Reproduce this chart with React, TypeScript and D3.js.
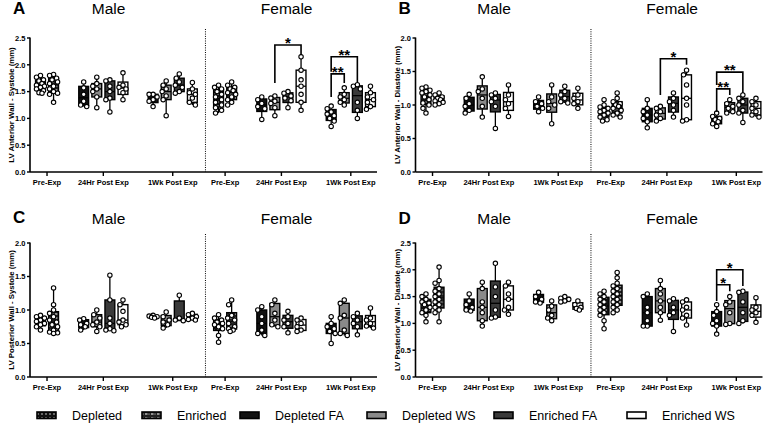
import React from 'react';
import * as d3 from 'd3';

const timepoints = ['Pre-Exp', '24Hr Post Exp', '1Wk Post Exp'];
const sexes = ['Male', 'Female'];
const preGroups = ['Depleted', 'Enriched'];
const postGroups = ['Depleted FA', 'Depleted WS', 'Enriched FA', 'Enriched WS'];
const legendItems = ['Depleted', 'Enriched', 'Depleted FA', 'Depleted WS', 'Enriched FA', 'Enriched WS'];

// A - LV anterior wall, systole (mm)
const antSysMale = [
  [[1.80, 1.77, 1.72, 1.70, 1.65, 1.62, 1.60, 1.58, 1.55, 1.52, 1.48, 1.47], [1.82, 1.80, 1.75, 1.72, 1.68, 1.65, 1.60, 1.55, 1.50, 1.47, 1.45, 1.30]],
  [[1.68, 1.57, 1.45, 1.32, 1.25, 1.22], [1.77, 1.65, 1.60, 1.55, 1.50, 1.40, 1.20], [1.72, 1.70, 1.60, 1.50, 1.38, 1.35, 1.12], [1.85, 1.62, 1.58, 1.55, 1.48, 1.35]],
  [[1.45, 1.45, 1.40, 1.35, 1.32, 1.22], [1.70, 1.62, 1.55, 1.50, 1.42, 1.35, 1.05], [1.83, 1.75, 1.68, 1.62, 1.58, 1.50, 1.47], [1.67, 1.55, 1.48, 1.45, 1.38, 1.30, 1.25]],
];
const antSysFemale = [
  [[1.62, 1.58, 1.55, 1.50, 1.45, 1.40, 1.35, 1.30, 1.25, 1.20, 1.15, 1.10], [1.68, 1.62, 1.58, 1.55, 1.52, 1.48, 1.45, 1.40, 1.35, 1.30, 1.25]],
  [[1.40, 1.35, 1.28, 1.22, 1.18, 0.98], [1.42, 1.38, 1.32, 1.28, 1.20, 1.05], [1.50, 1.47, 1.42, 1.38, 1.33, 1.20], [2.15, 1.90, 1.72, 1.60, 1.45, 1.30, 1.15]],
  [[1.23, 1.18, 1.12, 1.08, 1.05, 1.00, 0.95, 0.85], [1.57, 1.45, 1.40, 1.35, 1.30, 1.25], [1.63, 1.60, 1.55, 1.30, 1.15, 1.00], [1.60, 1.48, 1.40, 1.35, 1.30, 1.22, 1.17]],
];

// B - LV anterior wall, diastole (mm)
const antDiaMale = [
  [[1.27, 1.25, 1.22, 1.20, 1.18, 1.15, 1.12, 1.08, 1.03, 1.00, 0.95, 0.88], [1.18, 1.15, 1.12, 1.10, 1.08, 1.06, 1.04, 1.02, 1.00]],
  [[1.16, 1.10, 1.02, 0.98, 0.92, 0.88], [1.42, 1.24, 1.20, 1.10, 0.98, 0.82], [1.18, 1.15, 1.10, 1.05, 0.98, 0.65], [1.30, 1.15, 1.08, 1.02, 0.95, 0.83]],
  [[1.12, 1.05, 1.02, 0.98, 0.95, 0.90], [1.30, 1.12, 1.05, 1.00, 0.95, 0.72], [1.28, 1.20, 1.15, 1.10, 1.05, 1.03], [1.25, 1.15, 1.10, 1.05, 1.02, 0.95]],
];
const antDiaFemale = [
  [[1.08, 1.00, 0.97, 0.95, 0.92, 0.90, 0.88, 0.85, 0.82, 0.78, 0.76], [1.18, 1.10, 1.05, 1.02, 1.00, 0.98, 0.95, 0.92, 0.88, 0.85, 0.82]],
  [[1.08, 0.95, 0.90, 0.85, 0.80, 0.75, 0.66], [0.98, 0.95, 0.90, 0.85, 0.80, 0.76], [1.18, 1.10, 1.05, 1.00, 0.92, 0.82], [1.52, 1.45, 1.30, 1.10, 1.00, 0.78, 0.76]],
  [[0.88, 0.83, 0.80, 0.78, 0.75, 0.72, 0.68], [1.08, 1.02, 0.98, 0.95, 0.90, 0.88], [1.15, 1.10, 1.05, 1.00, 0.92, 0.88, 0.74], [1.10, 1.05, 1.00, 0.95, 0.90, 0.85, 0.82]],
];

// C - LV posterior wall, systole (mm)
const postSysMale = [
  [[0.92, 0.90, 0.88, 0.85, 0.83, 0.80, 0.78, 0.75, 0.70], [1.33, 1.08, 1.00, 0.95, 0.90, 0.85, 0.82, 0.78, 0.75, 0.70, 0.67, 0.66, 0.65]],
  [[0.87, 0.85, 0.80, 0.78, 0.75, 0.70], [1.00, 0.93, 0.88, 0.82, 0.78, 0.75, 0.68], [1.52, 1.15, 0.88, 0.80, 0.72, 0.70, 0.69], [1.15, 1.08, 0.98, 0.85, 0.82, 0.78, 0.75]],
  [[0.92, 0.91, 0.90, 0.89, 0.88], [0.97, 0.90, 0.85, 0.82, 0.78, 0.73], [1.22, 0.88, 0.85, 0.84], [0.95, 0.93, 0.90, 0.88, 0.86, 0.85]],
];
const postSysFemale = [
  [[0.93, 0.88, 0.85, 0.82, 0.80, 0.78, 0.75, 0.72, 0.62, 0.52], [1.15, 1.08, 0.92, 0.88, 0.85, 0.80, 0.75, 0.72, 0.70, 0.68]],
  [[1.05, 1.00, 0.90, 0.80, 0.70, 0.65, 0.62], [1.15, 1.08, 0.95, 0.85, 0.78, 0.75], [0.98, 0.90, 0.85, 0.80, 0.75, 0.66], [0.88, 0.85, 0.80, 0.75, 0.70, 0.68]],
  [[0.90, 0.80, 0.75, 0.72, 0.68, 0.65, 0.50], [1.15, 1.10, 0.92, 0.88, 0.70, 0.65, 0.62], [0.95, 0.90, 0.85, 0.80, 0.75, 0.63], [1.03, 0.88, 0.85, 0.80, 0.76, 0.73]],
];

// D - LV posterior wall, diastole (mm)
const postDiaMale = [
  [[1.55, 1.50, 1.45, 1.40, 1.38, 1.35, 1.30, 1.25, 1.20, 1.15, 1.03], [2.05, 1.80, 1.75, 1.65, 1.60, 1.55, 1.50, 1.45, 1.40, 1.35, 1.30, 1.25, 1.20, 1.03]],
  [[1.55, 1.42, 1.35, 1.30, 1.25, 1.23], [1.77, 1.65, 1.40, 1.30, 1.20, 1.05, 0.95], [2.12, 1.68, 1.50, 1.25, 1.12, 1.10], [1.77, 1.70, 1.55, 1.45, 1.30, 1.25, 1.17]],
  [[1.58, 1.50, 1.45, 1.40, 1.38], [1.42, 1.32, 1.25, 1.15, 1.10, 1.05], [1.50, 1.47, 1.45, 1.42, 1.40], [1.42, 1.35, 1.30, 1.28, 1.25]],
];
const postDiaFemale = [
  [[1.60, 1.55, 1.50, 1.45, 1.40, 1.35, 1.30, 1.25, 1.20, 1.15, 1.05, 0.90], [1.95, 1.85, 1.75, 1.70, 1.65, 1.60, 1.55, 1.50, 1.45, 1.40, 1.35, 1.30, 1.25, 1.20]],
  [[1.55, 1.50, 1.30, 1.20, 1.05, 0.95, 0.95], [1.80, 1.65, 1.55, 1.42, 1.30, 1.20, 1.06], [1.46, 1.42, 1.30, 1.20, 1.15, 0.85], [1.44, 1.40, 1.30, 1.25, 1.15, 1.10, 0.97]],
  [[1.35, 1.22, 1.15, 1.05, 1.00, 0.95, 0.80], [1.50, 1.40, 1.35, 1.20, 1.00, 0.98], [1.60, 1.58, 1.40, 1.20, 1.05, 1.00], [1.48, 1.30, 1.25, 1.20, 1.15, 1.02]],
];

// significance brackets (values in mm)
const bracketsA = [
  { sex: 1, time: 1, from: 1, to: 3, top: 2.37, left: 1.66, right: 2.18, label: '*' },
  { sex: 1, time: 2, from: 0, to: 2, top: 2.15, left: 1.87, right: 1.68, label: '**' },
  { sex: 1, time: 2, from: 0, to: 1, top: 1.83, left: 1.40, right: 1.66, label: '**' },
];
const bracketsB = [
  { sex: 1, time: 1, from: 1, to: 3, top: 1.69, left: 1.15, right: 1.60, label: '*' },
  { sex: 1, time: 2, from: 0, to: 2, top: 1.49, left: 1.30, right: 1.18, label: '**' },
  { sex: 1, time: 2, from: 0, to: 1, top: 1.24, left: 0.90, right: 1.15, label: '**' },
];
const bracketsD = [
  { sex: 1, time: 2, from: 0, to: 2, top: 2.0, left: 1.73, right: 1.70, label: '*' },
  { sex: 1, time: 2, from: 0, to: 1, top: 1.72, left: 1.42, right: 1.60, label: '*' },
];

const fills: Record<string, string> = {
  'Depleted': 'url(#patDep)',
  'Enriched': 'url(#patEnr)',
  'Depleted FA': '#111',
  'Depleted WS': '#8a8a8a',
  'Enriched FA': '#3a3a3a',
  'Enriched WS': '#fff',
};

// slot layout of the x axis (one slot per box)
const SLOTS = 26.5;
const GAP = 1.3;
const SEX_START = [0.3, 13.9];
const PANEL_W = 347;
const FONT = 'Liberation Sans, Arial, sans-serif';

const groupSize = (t: number) => (t === 0 ? preGroups.length : postGroups.length);
function groupStart(sex: number, t: number) {
  let s = SEX_START[sex];
  for (let i = 0; i < t; i++) s += groupSize(i) + GAP;
  return s;
}

// quartiles like Prism: position (n+1)p
function quart(sorted: number[], p: number) {
  const n = sorted.length;
  let pos = (n + 1) * p - 1;
  pos = Math.max(0, Math.min(n - 1, pos));
  const lo = Math.floor(pos), hi = Math.ceil(pos);
  return sorted[lo] + (sorted[hi] - sorted[lo]) * (pos - lo);
}

function swarm(vals: number[], y: (v: number) => number, r: number) {
  const pts = vals.map((v) => y(v)).sort((a, b) => a - b);
  const placed: { x: number; y: number }[] = [];
  const cands = [0, -3, 3, -1.5, 1.5, -4, 4];
  pts.forEach((py) => {
    let best = 0, bestD = -1;
    for (const c of cands) {
      let dmin = Infinity;
      for (const q of placed) dmin = Math.min(dmin, Math.hypot(q.x - c, q.y - py));
      if (dmin >= 2 * r + 0.4) { best = c; break; }
      if (dmin > bestD) { bestD = dmin; best = c; }
    }
    placed.push({ x: best, y: py });
  });
  return placed;
}

type Bracket = { sex: number; time: number; from: number; to: number; top: number; left: number; right: number; label: string };

function Panel(props: {
  x0: number; yTop: number; yBottom: number; yMax: number; letter: string; yLabel: string;
  titleY: number; letterY: number; male: number[][][]; female: number[][][]; brackets: Bracket[];
}) {
  const { x0, yTop, yBottom, yMax, letter, yLabel, titleY, letterY, male, female, brackets } = props;
  const x = d3.scaleLinear().domain([0, SLOTS]).range([x0, x0 + PANEL_W]);
  const y = d3.scaleLinear().domain([0, yMax]).range([yBottom, yTop]);
  const ticks = d3.range(0, yMax + 0.001, 0.5);
  const bw = x(0.75) - x(0);
  const fmt = d3.format('.1f');
  const datasets = [male, female];

  const boxX = (sex: number, t: number, i: number) => x(groupStart(sex, t) + i + 0.5);

  return (
    <g>
      <text x={x0 - 17} y={letterY} fontSize={17} fontWeight="bold" fontFamily={FONT}>{letter}</text>
      {sexes.map((s, si) => (
        <text key={s} x={x(SEX_START[si] + 5.7)} y={titleY} fontSize={15.5} textAnchor="middle" fontFamily={FONT}>{s}</text>
      ))}
      <text transform={`translate(${x0 - 16},${(yTop + yBottom) / 2}) rotate(-90)`} textAnchor="middle"
        fontSize={7.8} fontWeight="bold" fontFamily={FONT}>{yLabel}</text>

      {/* divider */}
      <line x1={x(13.4)} x2={x(13.4)} y1={yTop - 9} y2={yBottom} stroke="#000" strokeWidth={1} strokeDasharray="1,1.3" />

      {/* boxes */}
      {datasets.map((ds, si) => ds.map((grp, t) => grp.map((vals, i) => {
        const sorted = vals.slice().sort((a, b) => a - b);
        const q1 = quart(sorted, 0.25), med = quart(sorted, 0.5), q3 = quart(sorted, 0.75);
        const cx = boxX(si, t, i);
        const name = t === 0 ? preGroups[i] : postGroups[i];
        const pts = swarm(vals, y, 2.2);
        return (
          <g key={`${si}-${t}-${i}`}>
            <line x1={cx} x2={cx} y1={y(sorted[0])} y2={y(sorted[sorted.length - 1])} stroke="#000" strokeWidth={1.3} />
            <rect x={cx - bw / 2} y={y(q3)} width={bw} height={Math.max(0.5, y(q1) - y(q3))} fill={fills[name]} stroke="#000" strokeWidth={1.4} />
            <line x1={cx - bw / 2} x2={cx + bw / 2} y1={y(med)} y2={y(med)} stroke="#000" strokeWidth={1.3} />
            {pts.map((p, k) => (
              <circle key={k} cx={cx + p.x} cy={p.y} r={2.2} fill="#fff" stroke="#000" strokeWidth={1.1} />
            ))}
          </g>
        );
      })))}

      {/* brackets */}
      {brackets.map((b, k) => {
        const xa = boxX(b.sex, b.time, b.from), xb = boxX(b.sex, b.time, b.to);
        const yt = y(b.top);
        return (
          <g key={k}>
            <path d={`M${xa},${y(b.left)}V${yt}H${xb}V${y(b.right)}`} fill="none" stroke="#000" strokeWidth={1.6} />
            <text x={(xa + xb) / 2} y={yt + 3} textAnchor="middle" fontSize={15}
              fontWeight="bold" fontFamily={FONT}>{b.label}</text>
          </g>
        );
      })}

      {/* axes */}
      <line x1={x0} x2={x0} y1={yTop - 0.5} y2={yBottom} stroke="#000" strokeWidth={1.6} />
      <line x1={x0} x2={x0 + PANEL_W} y1={yBottom} y2={yBottom} stroke="#000" strokeWidth={1.6} />
      {ticks.map((v) => (
        <g key={v}>
          <line x1={x0 - 3} x2={x0} y1={y(v)} y2={y(v)} stroke="#000" strokeWidth={1.4} />
          <text x={x0 - 4.5} y={y(v) + 2.7} textAnchor="end" fontSize={7.5} fontWeight="bold" fontFamily={FONT}>{fmt(v)}</text>
        </g>
      ))}
      {sexes.map((s, si) => timepoints.map((tp, t) => {
        const cx = x(groupStart(si, t) + groupSize(t) / 2);
        return (
          <g key={`${s}-${tp}`}>
            <line x1={cx} x2={cx} y1={yBottom} y2={yBottom + 4} stroke="#000" strokeWidth={1.4} />
            <text x={cx} y={yBottom + 13} textAnchor="middle" fontSize={7.5} fontWeight="bold" fontFamily={FONT}>{tp}</text>
          </g>
        );
      }))}
    </g>
  );
}

const legendX = [37, 142, 240, 367, 494, 627];

export default function App() {
  return (
    <svg width={768} height={426} style={{ position: 'absolute', left: 0, top: 0, background: '#fff' }}>
      <defs>
        <pattern id="patDep" width={4} height={4} patternUnits="userSpaceOnUse">
          <rect width={4} height={4} fill="#111" />
          <circle cx={2} cy={2} r={0.7} fill="#fff" />
        </pattern>
        <pattern id="patEnr" width={6} height={4} patternUnits="userSpaceOnUse">
          <rect width={6} height={4} fill="#222" />
          <rect x={1} y={1.5} width={2.5} height={1} fill="#fff" />
          <circle cx={5} cy={2} r={0.5} fill="#fff" />
        </pattern>
      </defs>
      <rect width={768} height={426} fill="#fff" />
      <Panel x0={30} yTop={38} yBottom={172} yMax={2.5} letter="A" yLabel="LV Anterior Wall - Systole (mm)"
        titleY={13.5} letterY={14} male={antSysMale} female={antSysFemale} brackets={bracketsA} />
      <Panel x0={415.5} yTop={38} yBottom={172} yMax={2.0} letter="B" yLabel="LV Anterior Wall - Diastole (mm)"
        titleY={13.5} letterY={14} male={antDiaMale} female={antDiaFemale} brackets={bracketsB} />
      <Panel x0={30} yTop={243} yBottom={377} yMax={2.0} letter="C" yLabel="LV Posterior Wall - Systole (mm)"
        titleY={224} letterY={223} male={postSysMale} female={postSysFemale} brackets={[]} />
      <Panel x0={415.5} yTop={243} yBottom={377} yMax={2.5} letter="D" yLabel="LV Posterior Wall - Diastole (mm)"
        titleY={224} letterY={224} male={postDiaMale} female={postDiaFemale} brackets={bracketsD} />

      {legendItems.map((name, i) => (
        <g key={name}>
          <rect x={legendX[i]} y={412} width={19} height={6.5} fill={fills[name]} stroke="#000" strokeWidth={1.6} />
          <text x={legendX[i] + 35} y={420} fontSize={12.5} fontFamily={FONT}>{name}</text>
        </g>
      ))}
    </svg>
  );
}
